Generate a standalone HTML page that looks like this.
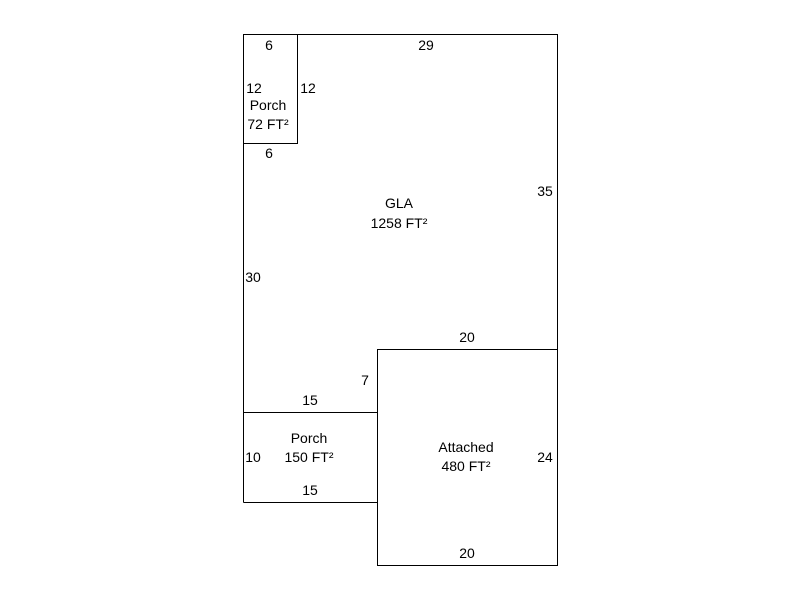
<!DOCTYPE html>
<html><head><style>body{margin:0;background:#fff}svg{display:block}text{font-family:"Liberation Sans",Arial,sans-serif;font-size:14px;fill:#000}</style></head>
<body>
<svg width="800" height="600" viewBox="0 0 800 600" xmlns="http://www.w3.org/2000/svg">
<g fill="none" stroke="#000" stroke-width="1">
<path d="M243.5 34.5H557.5V349.5"/>
<path d="M243.5 34.5V502.5"/>
<rect x="243.5" y="34.5" width="54" height="109"/>
<path d="M243.5 412.5H377.5"/>
<path d="M243.5 502.5H377.5"/>
<rect x="377.5" y="349.5" width="180" height="216"/>
</g>
<g text-anchor="middle">
<text x="269" y="50">6</text>
<text x="426" y="50">29</text>
<text x="254" y="93">12</text>
<text x="308" y="93">12</text>
<text x="268" y="110">Porch</text>
<text x="268" y="129">72 FT²</text>
<text x="269" y="158">6</text>
<text x="399" y="208">GLA</text>
<text x="399" y="228">1258 FT²</text>
<text x="545" y="196">35</text>
<text x="253" y="282">30</text>
<text x="467" y="342">20</text>
<text x="365" y="385">7</text>
<text x="310" y="405">15</text>
<text x="309" y="443">Porch</text>
<text x="309" y="462">150 FT²</text>
<text x="253" y="462">10</text>
<text x="310" y="495">15</text>
<text x="466" y="452">Attached</text>
<text x="466" y="471">480 FT²</text>
<text x="545" y="462">24</text>
<text x="467" y="558">20</text>
</g>
</svg>
</body></html>
